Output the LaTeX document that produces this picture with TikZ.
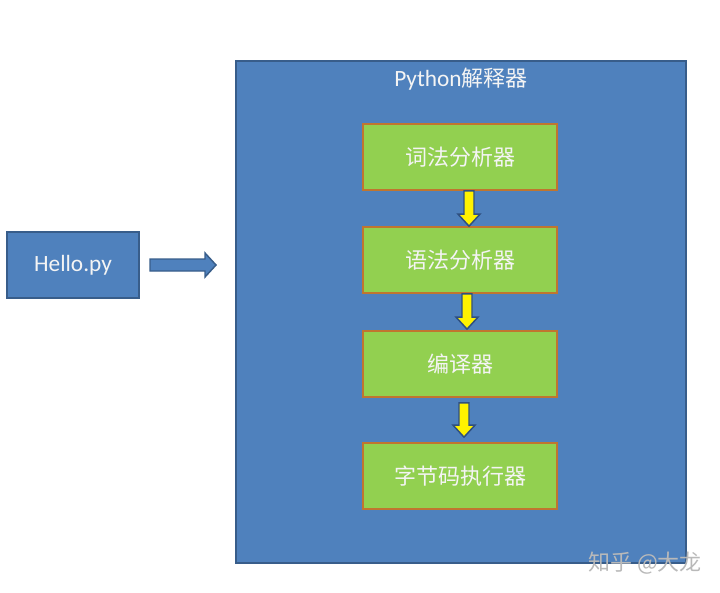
\documentclass[tikz,border=0pt]{standalone}
\usepackage{fontspec}
\setmainfont{Carlito}
\newfontfamily\cjk{Noto Sans CJK SC}
\usetikzlibrary{calc}
\definecolor{boxblue}{HTML}{4F81BD}
\definecolor{boxblueline}{HTML}{385D8A}
\definecolor{boxgreen}{HTML}{92D050}
\definecolor{boxorange}{HTML}{C0752F}
\definecolor{arrowline}{HTML}{2F4F7F}
\definecolor{txtwhite}{HTML}{F4F4F4}
\begin{document}
\begin{tikzpicture}[x=0.75pt,y=-0.75pt,
  bluebox/.style={draw=boxblueline,line width=1.5pt,fill=boxblue,inner sep=0pt},
  greenbox/.style={draw=boxorange,line width=1.3pt,fill=boxgreen,inner sep=0pt,
    minimum width=145.5pt,minimum height=49.5pt,text=txtwhite,font=\cjk\fontsize{16.5}{19}\selectfont},
  yarrow/.style={draw=arrowline,line width=1.1pt,fill=yellow,line join=miter},
  barrow/.style={draw=boxblueline,line width=1.1pt,fill=boxblue,line join=miter}]
\useasboundingbox (0,0) rectangle (720,592);
\node[bluebox,minimum width=337.5pt,minimum height=376.5pt] (interp) at (461,312) {};
\node[text=txtwhite,font=\fontsize{17.5}{20}\selectfont] (title) at (461,79) {Python{\cjk\fontsize{16.5}{19}\selectfont 解释器}};
\node[bluebox,minimum width=99pt,minimum height=49.5pt,text=txtwhite,font=\fontsize{17.5}{20}\selectfont] (hello) at (73,265) {Hello.py};
\node[greenbox] (b1) at (460,157) {词法分析器};
\node[greenbox] (b2) at (460,260) {语法分析器};
\node[greenbox] (b3) at (460,364) {编译器};
\node[greenbox] (b4) at (460,476) {字节码执行器};
% right block arrow
\coordinate (rs) at ($(hello.east)+(10,0)$);
\coordinate (re) at ($(interp.west |- hello.east)+(-19,0)$);
\draw[barrow] ($(rs)+(0,-6)$) -- ($(re)+(-11,-6)$) -- ($(re)+(-11,-12)$) -- (re)
  -- ($(re)+(-11,12)$) -- ($(re)+(-11,6)$) -- ($(rs)+(0,6)$) -- cycle;
% down block arrows
\newcommand\downblock[2]{%
  \draw[yarrow] ($(#1)+(-5,0)$) -- ($(#2)+(-5,-12)$) -- ($(#2)+(-11,-12)$) -- (#2)
    -- ($(#2)+(11,-12)$) -- ($(#2)+(5,-12)$) -- ($(#1)+(5,0)$) -- cycle;}
\coordinate (a1s) at ($(b1.south)+(9,0)$);
\coordinate (a1e) at ($(b2.north)+(9,0)$);
\coordinate (a2s) at ($(b2.south)+(7,0)$);
\coordinate (a2e) at ($(b3.north)+(7,-1)$);
\coordinate (a3s) at ($(b3.south)+(4,5)$);
\coordinate (a3e) at ($(b4.north)+(4,-5)$);
\downblock{a1s}{a1e}
\downblock{a2s}{a2e}
\downblock{a3s}{a3e}
\node[text=gray!55,font=\cjk\fontsize{16.5}{19}\selectfont] (wm) at (645,563) {知乎 @大龙};
\end{tikzpicture}
\end{document}
